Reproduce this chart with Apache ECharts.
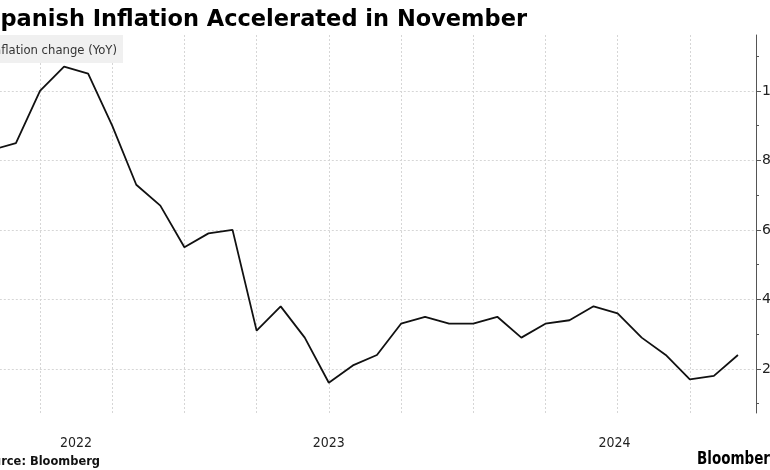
<!DOCTYPE html>
<html><head><meta charset="utf-8">
<script src="https://cdn.jsdelivr.net/npm/echarts@6/dist/echarts.min.js"></script>
<style>html,body{margin:0;padding:0;background:#fff}#c{width:770px;height:470px}</style>
</head><body><div id="c"></div>
<script>
// ---- data ----
const months = ['2022-04','2022-05','2022-06','2022-07','2022-08','2022-09','2022-10','2022-11','2022-12',
  '2023-01','2023-02','2023-03','2023-04','2023-05','2023-06','2023-07','2023-08','2023-09','2023-10','2023-11','2023-12',
  '2024-01','2024-02','2024-03','2024-04','2024-05','2024-06','2024-07','2024-08','2024-09','2024-10','2024-11'];
const inflation = [8.3,8.5,10.0,10.7,10.5,9.0,7.3,6.7,5.5,
  5.9,6.0,3.1,3.8,2.9,1.6,2.1,2.4,3.3,3.5,3.3,3.3,
  3.5,2.9,3.3,3.4,3.8,3.6,2.9,2.4,1.7,1.8,2.4];
const yMajorTicks = [2,4,6,8,10];
const yMinorTicks = [1,3,5,7,9,11];
const yearLabels = ['2022','2023','2024'];
const titleText = 'Spanish Inflation Accelerated in November';
const legendText = 'Inflation change (YoY)';
const sourceText = 'Source: Bloomberg';

// ---- axis extent (month index, 0 = 2022-03) ----
const axisStartMonth = '2022-03';
function monthIndex(s){
  const [y,m] = s.split('-').map(Number);
  const [y0,m0] = axisStartMonth.split('-').map(Number);
  return (y - y0) * 12 + (m - m0);
}
const xMin = 0, xMax = 32.75;
const yMin = 0.73, yMax = 11.61;

const seriesData = months.map((m,i) => [monthIndex(m), inflation[i]]);
// year label at centre of the visible part of each year (month-end points)
const yearPos = yearLabels.map(y => {
  const a = Math.max(xMin, monthIndex((+y - 1) + '-12'));
  const b = Math.min(xMax, monthIndex(y + '-12'));
  return (a + b) / 2;
});
const yearMap = {};
yearPos.forEach((p,i) => yearMap[p.toFixed(3)] = yearLabels[i]);

const chart = echarts.init(document.getElementById('c'), null, {renderer:'canvas'});
const font = '"DejaVu Sans", sans-serif';
chart.setOption({
  animation: false,
  backgroundColor: '#fff',
  grid: {left: -32.2, right: 14, top: 35, bottom: 57, containLabel: false, outerBoundsMode: 'none'},
  xAxis: {
    type: 'value', min: xMin, max: xMax, interval: 3,
    axisLine: {show: false, onZero: false}, axisTick: {show: false},
    splitLine: {show: true, showMinLine: false, showMaxLine: false, lineStyle: {color: '#d6d6d6', type: [2,2], width: 1}},
    axisLabel: {
      customValues: yearPos, margin: 23, fontSize: 14, color: '#222',
      fontFamily: '"DejaVu Sans Condensed", "DejaVu Sans", sans-serif',
      formatter: v => yearMap[Number(v).toFixed(3)] || ''
    }
  },
  yAxis: [{
    type: 'value', position: 'right', min: yMin, max: yMax,
    axisLine: {show: true, onZero: false, lineStyle: {color: '#555', width: 1}},
    axisTick: {show: true, customValues: yMajorTicks, length: 5, lineStyle: {color: '#555'}},
    axisLabel: {customValues: yMajorTicks, margin: 6, fontSize: 14, color: '#222', fontFamily: font},
    splitLine: {show: true, lineStyle: {color: '#d6d6d6', type: [2,2], width: 1}}
  },{
    type: 'value', position: 'right', min: yMin, max: yMax,
    axisLine: {show: false, onZero: false},
    axisTick: {show: true, customValues: yMinorTicks, length: 3, lineStyle: {color: '#555'}},
    axisLabel: {show: false},
    splitLine: {show: false}
  }],
  series: [{
    type: 'line', data: seriesData, yAxisIndex: 0,
    showSymbol: false, symbol: 'none',
    lineStyle: {color: '#111', width: 1.8},
    z: 5
  }],
  graphic: [
    {type: 'text', x: 527, y: 19.8, z: 10,
     style: {text: titleText, fontSize: 22.5, fontWeight: 'bold', fontFamily: font, fill: '#000',
             align: 'right', textAlign: 'right', verticalAlign: 'middle', textVerticalAlign: 'middle'}},
    {type: 'rect', z: 1, shape: {x: -30, y: 35, width: 153, height: 28}, style: {fill: '#f0f0f0'}},
    {type: 'text', x: 117, y: 51.1, scaleX: 0.895, z: 10,
     style: {text: legendText, fontSize: 13, fontFamily: font, fill: '#333',
             align: 'right', textAlign: 'right', verticalAlign: 'middle', textVerticalAlign: 'middle'}},
    {type: 'text', x: 100, y: 462, scaleX: 0.88, z: 10,
     style: {text: sourceText, fontSize: 13, fontWeight: 'bold', fontFamily: font, fill: '#111',
             align: 'right', textAlign: 'right', verticalAlign: 'middle', textVerticalAlign: 'middle'}},
    {type: 'text', x: 697, y: 459.7, scaleX: 0.75, z: 10,
     style: {text: 'Bloomberg', fontSize: 18, fontWeight: 'bold', fontFamily: font, fill: '#000',
             align: 'left', textAlign: 'left', verticalAlign: 'middle', textVerticalAlign: 'middle'}}
  ]
});
</script></body></html>
